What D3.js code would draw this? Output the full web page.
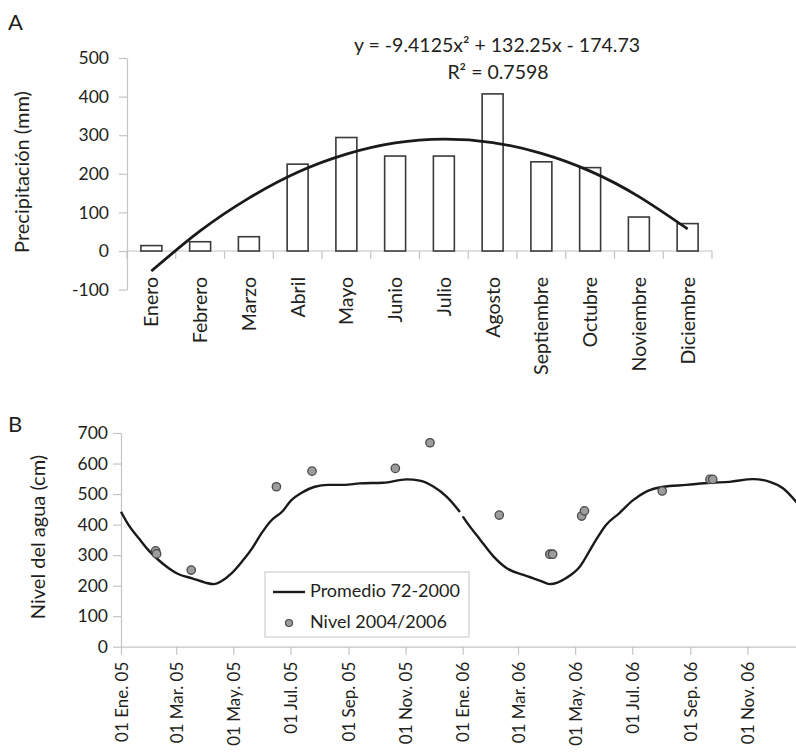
<!DOCTYPE html>
<html>
<head>
<meta charset="utf-8">
<script src="https://cdn.jsdelivr.net/npm/d3@7"></script>
<style>
  body { margin: 0; background: #fff; }
  svg { display: block; font-family: Lato, 'Open Sans', sans-serif; }
  .axis path, .axis line { stroke: #c4c4c4; stroke-width: 1.2; }
  .axis text { fill: #231f20; }
  text { fill: #231f20; }
</style>
</head>
<body>
<svg width="796" height="754"></svg>
<script>
/*eslint no-undef: 0*/

// panel A - monthly precipitation
const months = ['Enero', 'Febrero', 'Marzo', 'Abril', 'Mayo', 'Junio', 'Julio', 'Agosto', 'Septiembre', 'Octubre', 'Noviembre', 'Diciembre']
const precipitation = [14, 24, 37, 225, 294, 246, 246, 407, 231, 216, 88, 71]
const trendValues = [-52, 52, 137, 204, 251, 280, 290, 281, 253, 207, 141, 57]
const precipTicks = [-100, 0, 100, 200, 300, 400, 500]
const equationText = 'y = -9.4125x² + 132.25x - 174.73'
const r2Text = 'R² = 0.7598'

// panel B - water level
const promedio2005Dates = ['2005-01-01', '2005-01-09', '2005-01-20', '2005-01-30', '2005-02-10', '2005-02-21', '2005-03-03', '2005-03-18', '2005-04-01', '2005-04-10', '2005-04-19', '2005-04-29', '2005-05-10', '2005-05-21', '2005-05-31', '2005-06-11', '2005-06-22', '2005-07-02', '2005-07-13', '2005-07-27', '2005-08-10', '2005-08-28', '2005-09-13', '2005-10-08', '2005-11-02', '2005-11-16', '2005-12-01', '2005-12-15', '2005-12-26', '2005-12-29']
const promedio2005Values = [442, 399, 355, 317, 284, 257, 238, 224, 210, 205, 216, 240, 278, 322, 371, 415, 442, 480, 504, 524, 530, 530, 535, 537, 548, 544, 524, 491, 453, 441]
const promedio2006Dates = ['2006-01-01', '2006-01-05', '2006-01-20', '2006-02-03', '2006-02-17', '2006-03-07', '2006-03-25', '2006-04-04', '2006-04-22', '2006-05-06', '2006-05-20', '2006-06-03', '2006-06-17', '2006-07-02', '2006-07-16', '2006-08-03', '2006-08-28', '2006-09-22', '2006-10-13', '2006-11-07', '2006-11-25', '2006-12-09', '2006-12-23', '2006-12-31']
const promedio2006Values = [427, 409, 349, 295, 257, 235, 216, 205, 226, 262, 333, 399, 437, 480, 508, 524, 530, 537, 540, 549, 540, 519, 475, 445]
const nivelDates = ['2005-02-07', '2005-02-08', '2005-03-17', '2005-06-16', '2005-07-24', '2005-10-21', '2005-11-27', '2006-02-09', '2006-04-04', '2006-04-07', '2006-05-08', '2006-05-11', '2006-08-02', '2006-09-22', '2006-09-25']
const nivelValues = [314, 304, 251, 524, 575, 584, 668, 431, 303, 303, 428, 445, 510, 548, 548]
const levelTicks = [0, 100, 200, 300, 400, 500, 600, 700]
const dateTicks = ['2005-01-01', '2005-03-01', '2005-05-01', '2005-07-01', '2005-09-01', '2005-11-01', '2006-01-01', '2006-03-01', '2006-05-01', '2006-07-01', '2006-09-01', '2006-11-01']
const dateTickLabels = ['01 Ene. 05', '01 Mar. 05', '01 May. 05', '01 Jul. 05', '01 Sep. 05', '01 Nov. 05', '01 Ene. 06', '01 Mar. 06', '01 May. 06', '01 Jul. 06', '01 Sep. 06', '01 Nov. 06']
const legendLabels = ['Promedio 72-2000', 'Nivel 2004/2006']

const svg = d3.select('svg')
const parseDate = d3.timeParse('%Y-%m-%d')

/* ---------- A ---------- */
const gA = svg.append('g')

const xA = d3.scaleBand()
  .domain(months)
  .range([127, 712])
  .paddingInner(0.57)
  .paddingOuter(0.285)

const yA = d3.scaleLinear()
  .domain([-100, 500])
  .range([289.6, 58])

const yAxisA = gA.append('g')
  .attr('class', 'axis')
  .attr('transform', 'translate(127,0)')
  .call(d3.axisLeft(yA).tickValues(precipTicks).tickFormat(d => String(d)).tickSize(8).tickSizeOuter(0).tickPadding(10))
yAxisA.attr('font-family', null).attr('font-size', 17.5)

// x axis sits at zero, ticks between months
const bounds = months.map(m => xA(m) + xA.bandwidth() / 2 - xA.step() / 2).concat([xA.range()[1]])
const xAxisA = gA.append('g')
  .attr('class', 'axis')
  .attr('transform', 'translate(0,' + yA(0) + ')')
xAxisA.append('line').attr('x1', 127).attr('x2', 712)
xAxisA.selectAll('line.tick')
  .data(bounds)
  .enter().append('line')
    .attr('class', 'tick')
    .attr('x1', d => d)
    .attr('x2', d => d)
    .attr('y2', 8)
xAxisA.selectAll('text')
  .data(months)
  .enter().append('text')
    .attr('transform', d => 'translate(' + (xA(d) + xA.bandwidth() / 2) + ',0) rotate(-90)')
    .attr('x', -26)
    .attr('dy', '0.36em')
    .attr('text-anchor', 'end')
    .attr('font-size', 19.5)
    .text(d => d)

gA.append('g')
  .selectAll('rect')
  .data(precipitation)
  .enter().append('rect')
    .attr('x', (d, i) => xA(months[i]))
    .attr('width', xA.bandwidth())
    .attr('y', d => yA(d))
    .attr('height', d => yA(0) - yA(d))
    .attr('fill', '#fff')
    .attr('stroke', '#3a3a3a')
    .attr('stroke-width', 1.6)

const trendLine = d3.line()
  .x((d, i) => xA(months[i]) + xA.bandwidth() / 2)
  .y(d => yA(d))
  .curve(d3.curveNatural)

gA.append('path')
  .datum(trendValues)
  .attr('d', trendLine)
  .attr('fill', 'none')
  .attr('stroke', '#1a1a1a')
  .attr('stroke-width', 2.8)

gA.append('text')
  .attr('x', 497).attr('y', 52)
  .attr('text-anchor', 'middle')
  .attr('font-size', 19.5)
  .text(equationText)
gA.append('text')
  .attr('x', 498).attr('y', 79)
  .attr('text-anchor', 'middle')
  .attr('font-size', 19.5)
  .text(r2Text)

gA.append('text')
  .attr('transform', 'translate(29,172) rotate(-90)')
  .attr('text-anchor', 'middle')
  .attr('font-size', 20)
  .text('Precipitación (mm)')

gA.append('text')
  .attr('x', 8).attr('y', 30)
  .attr('font-size', 22)
  .text('A')

/* ---------- B ---------- */
const gB = svg.append('g')

const xB = d3.scaleTime()
  .domain([parseDate('2005-01-01'), parseDate('2007-01-01')])
  .range([121, 804.5])

const yB = d3.scaleLinear()
  .domain([0, 700])
  .range([646.7, 433])

const yAxisB = gB.append('g')
  .attr('class', 'axis')
  .attr('transform', 'translate(121,0)')
  .call(d3.axisLeft(yB).tickValues(levelTicks).tickSize(8).tickSizeOuter(0).tickPadding(5))
yAxisB.attr('font-family', null).attr('font-size', 17.5)

const xAxisB = gB.append('g')
  .attr('class', 'axis')
  .attr('transform', 'translate(0,' + yB(0) + ')')
  .call(d3.axisBottom(xB)
    .tickValues(dateTicks.map(parseDate))
    .tickFormat((d, i) => dateTickLabels[i])
    .tickSize(8)
    .tickSizeOuter(0))
xAxisB.attr('font-family', null).attr('font-size', 17)
xAxisB.selectAll('text')
  .attr('transform', 'rotate(-90)')
  .attr('x', -15)
  .attr('y', 0)
  .attr('dy', '0.36em')
  .attr('text-anchor', 'end')

const levelLine = d3.line()
  .x(d => xB(d[0]))
  .y(d => yB(d[1]))
  .curve(d3.curveMonotoneX)

const seg2005 = promedio2005Dates.map((d, i) => [parseDate(d), promedio2005Values[i]])
const seg2006 = promedio2006Dates.map((d, i) => [parseDate(d), promedio2006Values[i]])

gB.append('g')
  .selectAll('path')
  .data([seg2005, seg2006])
  .enter().append('path')
    .attr('d', levelLine)
    .attr('fill', 'none')
    .attr('stroke', '#1a1a1a')
    .attr('stroke-width', 2.4)

gB.append('g')
  .selectAll('circle')
  .data(nivelDates)
  .enter().append('circle')
    .attr('cx', d => xB(parseDate(d)))
    .attr('cy', (d, i) => yB(nivelValues[i]))
    .attr('r', 4.2)
    .attr('fill', '#9d9d9d')
    .attr('stroke', '#4a4a4a')
    .attr('stroke-width', 1.3)

// legend
const legend = gB.append('g').attr('transform', 'translate(265,572)')
legend.append('rect')
  .attr('width', 204)
  .attr('height', 65)
  .attr('fill', '#fff')
  .attr('stroke', '#cfcfcf')
  .attr('stroke-width', 1.2)
legend.append('line')
  .attr('x1', 8).attr('x2', 40)
  .attr('y1', 20).attr('y2', 20)
  .attr('stroke', '#1a1a1a')
  .attr('stroke-width', 2.4)
legend.append('circle')
  .attr('cx', 24).attr('cy', 51)
  .attr('r', 3.5)
  .attr('fill', '#9d9d9d')
  .attr('stroke', '#4a4a4a')
  .attr('stroke-width', 1.2)
legend.selectAll('text.lab')
  .data(legendLabels)
  .enter().append('text')
    .attr('class', 'lab')
    .attr('x', 45)
    .attr('y', (d, i) => 25 + i * 31)
    .attr('font-size', 18)
    .text(d => d)

gB.append('text')
  .attr('transform', 'translate(45,537) rotate(-90)')
  .attr('text-anchor', 'middle')
  .attr('font-size', 20)
  .text('Nivel del agua (cm)')

gB.append('text')
  .attr('x', 8).attr('y', 432)
  .attr('font-size', 22)
  .text('B')
</script>
</body>
</html>
